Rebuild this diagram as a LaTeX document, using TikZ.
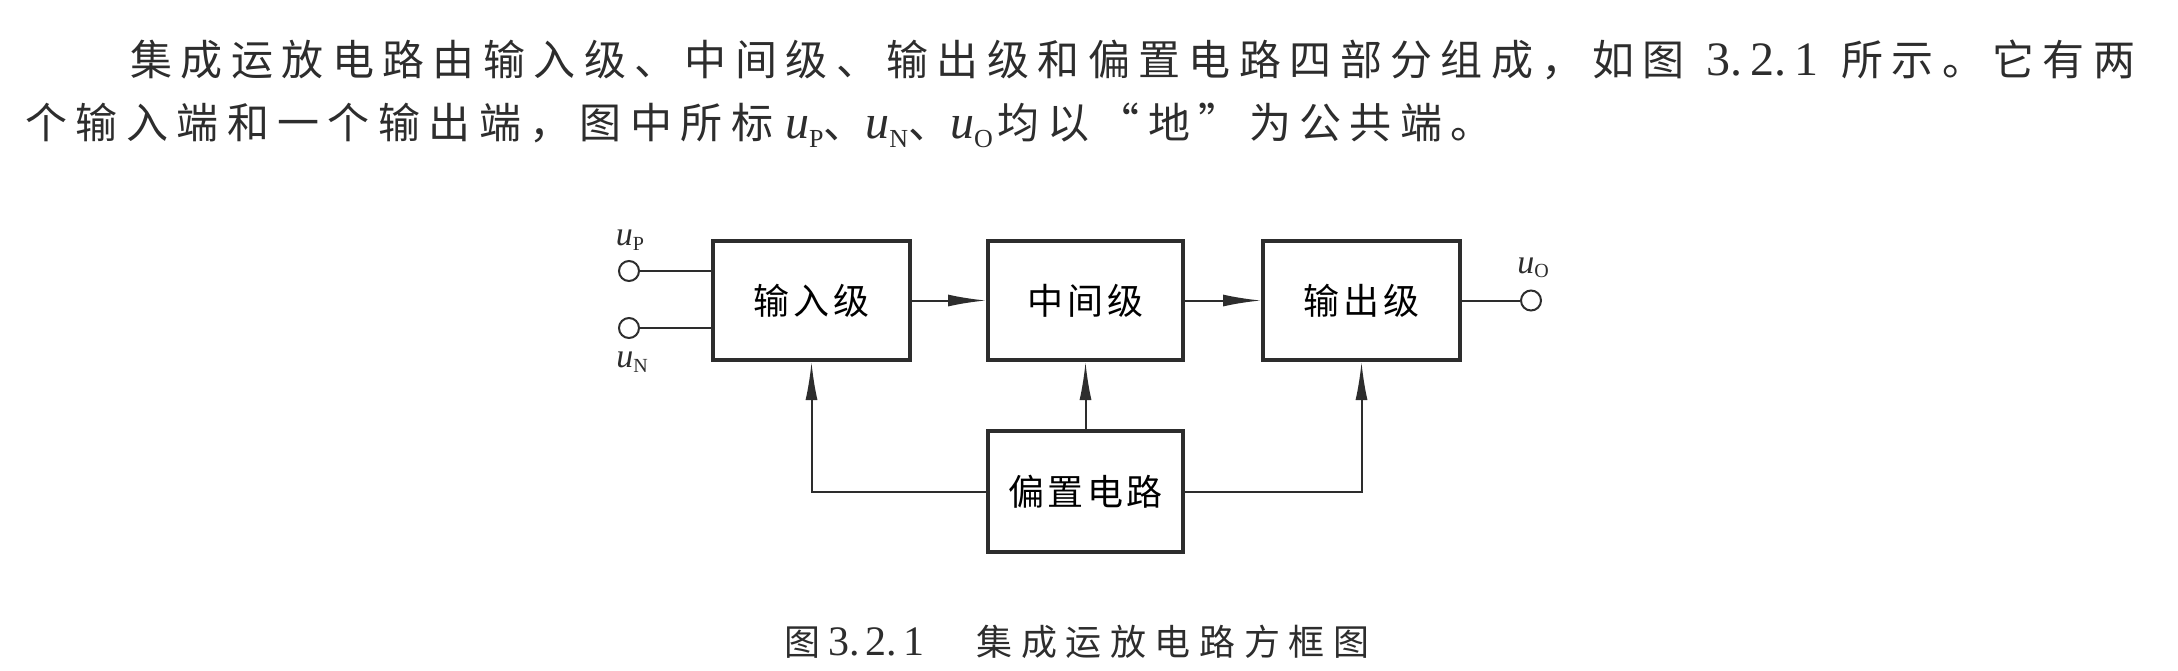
\documentclass[tikz,border=0pt]{standalone}
\usepackage{fontspec}
\setmainfont{Liberation Serif}
\newfontfamily\cjkbody[LetterSpace=20]{Noto Sans CJK SC}
\newfontfamily\cjkbox[LetterSpace=10]{Noto Sans CJK SC}
\newfontfamily\cjkcap[LetterSpace=24]{Noto Sans CJK SC}
\usetikzlibrary{arrows.meta}
\definecolor{ink}{RGB}{45,45,45}
\newcommand\usym[3]{{\fontsize{#1}{#1}\selectfont\itshape u}\raisebox{-0.22em}{\fontsize{#2}{#2}\selectfont #3}}
\tikzset{
  blk/.style={draw=ink, line width=2pt, minimum width=98.5pt, minimum height=59.5pt,
    inner sep=0pt, font=\cjkbox\fontsize{18pt}{18pt}\selectfont},
  wire/.style={draw=ink, line width=1pt},
  arr/.style={wire, -{Latex[length=19pt,width=6pt]}},
  term/.style={circle, draw=ink, line width=1pt, minimum size=10pt, inner sep=0pt},
  lbl/.style={inner sep=0pt, text=ink},
  txt/.style={inner sep=0pt, text=ink, anchor=west}
}
\begin{document}
\begin{tikzpicture}[x=0.5pt,y=-0.5pt]
\useasboundingbox (0,0) rectangle (2178,670);
% paragraph
\node[txt] (line1) at (130,60) {\hbox to 1002.5pt{\cjkbody\fontsize{21pt}{21pt}\selectfont 集成运放电路由输入级、中间级、输出级和偏置电路四部分组成，如图\hskip 6pt plus 1fil minus 6pt{\rmfamily\fontsize{24pt}{24pt}\selectfont 3.\hspace{4pt}2.\hspace{4pt}1}\hskip 6pt plus 1fil minus 6pt 所示。它有两}};
\node[txt] (line2) at (25,125) {\cjkbody\fontsize{21pt}{21pt}\selectfont 个输入端和一个输出端，图中所标\hspace{6pt}{\rmfamily\usym{24pt}{13pt}{P}}、{\rmfamily\usym{24pt}{13pt}{N}}、{\rmfamily\usym{24pt}{13pt}{O}}\hspace{2pt}均以“地”为公共端。};
% blocks
\node[blk] (in) at (811.5,300.5) {输入级};
\node[blk, minimum width=97.5pt] (mid) at (1085.5,300.5) {中间级};
\node[blk] (out) at (1361.5,300.5) {输出级};
\node[blk, minimum width=97.5pt, minimum height=60.5pt] (bias) at (1085.5,491.5) {偏置电路};
% terminals
\node[term] (uP) at (629,271) {};
\node[term] (uN) at (629,328) {};
\node[term] (uO) at (1531,300.5) {};
\node[lbl] (lP) at (630,240) {\usym{17pt}{10pt}{P}};
\node[lbl] (lN) at (632,362) {\usym{17pt}{10pt}{N}};
\node[lbl] (lO) at (1533,268) {\usym{17pt}{10pt}{O}};
% connectors
\draw[wire] (uP.east) -- (uP.east -| in.west);
\draw[wire] (uN.east) -- (uN.east -| in.west);
\draw[arr] (in.east) -- (mid.west);
\draw[arr] (mid.east) -- (out.west);
\draw[wire] (out.east) -- (uO.west);
\draw[arr] (bias.north) -- (mid.south);
\draw[arr] (bias.west) -| (in.south);
\draw[arr] (bias.east) -| (out.south);
% caption
\node[txt] (cap) at (784,642) {\cjkcap\fontsize{18pt}{18pt}\selectfont 图\hspace{4pt}{\rmfamily\fontsize{21pt}{21pt}\selectfont 3.\hspace{3pt}2.\hspace{3pt}1}\hspace{26pt}集成运放电路方框图};
\end{tikzpicture}
\end{document}
